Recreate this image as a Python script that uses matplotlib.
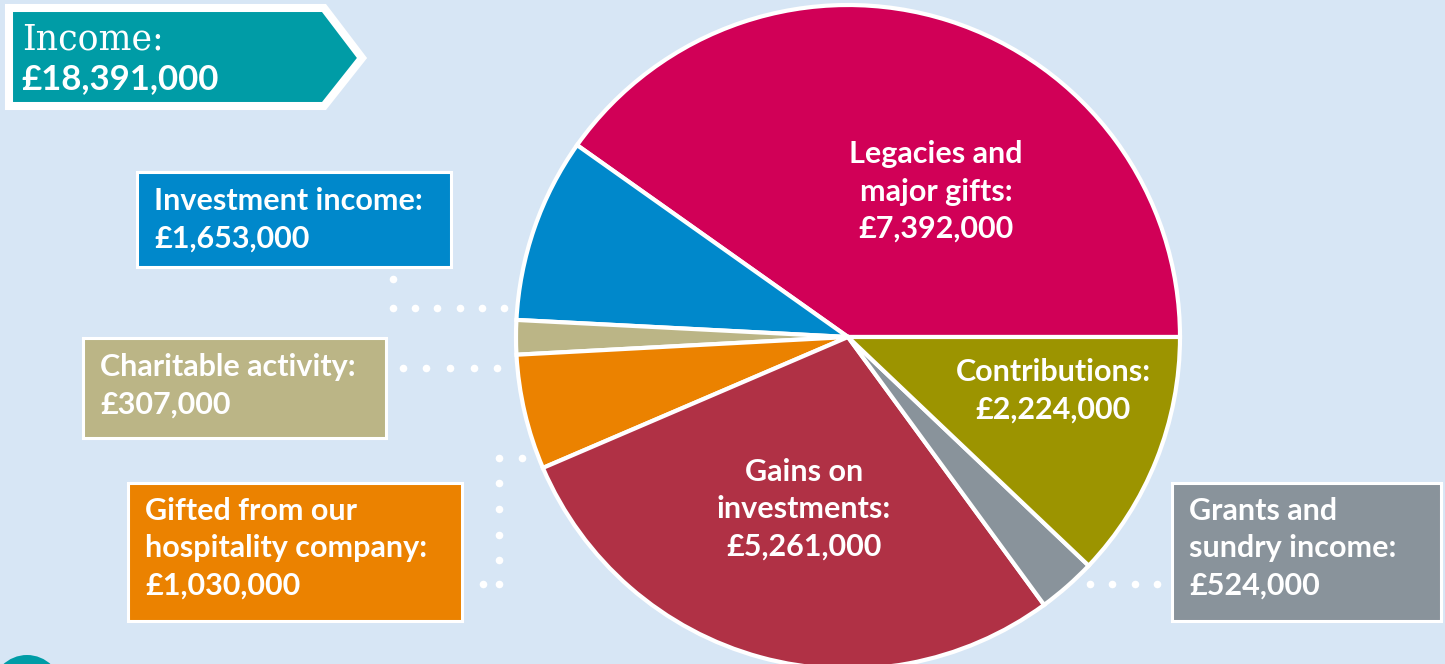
import matplotlib
matplotlib.use('agg')
import matplotlib.pyplot as plt
from matplotlib.patches import Rectangle, Polygon, Circle

# income split, pie order (counter-clockwise from 3 o'clock)
categories = ["Legacies and\nmajor gifts:", "Investment income:", "Charitable activity:",
              "Gifted from our\nhospitality company:", "Gains on\ninvestments:",
              "Grants and\nsundry income:", "Contributions:"]
values = [7392000, 1653000, 307000, 1030000, 5261000, 524000, 2224000]
total_income = 18391000
colors = ["#D10057", "#0088CB", "#BBB586", "#EB8200", "#B03145", "#89939B", "#9C9400"]

W, H = 1445, 664
BG = "#D7E6F5"
TEAL = "#009CA6"
FONT = "Lato"
FS = 22
LINE = 37.5


def Y(y):
    # image pixel (from top) -> axes y
    return H - y


def money(v):
    return "£{:,}".format(v)


def label(x, y, text, ha):
    # one text per line so every baseline sits where it should
    for k, line in enumerate(text.split("\n")):
        ax.text(x, Y(y + k * LINE), line, ha=ha, va="baseline", color="white",
                fontsize=FS, fontweight="bold", family=FONT, zorder=4)


fig = plt.figure(figsize=(W / 100, H / 100), dpi=100)
fig.patch.set_facecolor(BG)
ax = fig.add_axes([0, 0, 1, 1])
ax.set_facecolor(BG)

ax.pie(values, colors=colors, startangle=0, counterclock=True,
       center=(848, Y(337)), radius=332,
       wedgeprops=dict(edgecolor="white", linewidth=3))

ax.set_xlim(0, W)
ax.set_ylim(0, H)
ax.set_aspect("auto")
ax.axis("off")

# labels inside the pie
inside = {0: (936, 163), 4: (804, 481), 6: (1053, 381)}
for i, (x, y) in inside.items():
    label(x, y, categories[i] + "\n" + money(values[i]), "center")

# boxed labels outside: (x0, y0, x1, y1, text_x, first_baseline)
boxes = {
    1: (136.5, 171.5, 450.5, 266.5, 154, 210),
    2: (82.5, 337.5, 385.5, 437.5, 100, 376),
    3: (127.5, 482.5, 461.5, 620.5, 145, 520),
    5: (1171.5, 482.5, 1440.5, 620.5, 1189, 520),
}
for i, (x0, y0, x1, y1, tx, ty) in boxes.items():
    ax.add_patch(Rectangle((x0, Y(y1)), x1 - x0, y1 - y0, facecolor=colors[i],
                           edgecolor="white", linewidth=2.2, zorder=3))
    label(tx, ty, categories[i] + "\n" + money(values[i]), "left")

# dotted leaders
dots_x = [393, 393, 415, 437, 460, 482, 504,
          403, 426, 450, 474, 497,
          522, 499, 499, 499, 499, 499, 499, 483,
          1090, 1112, 1135, 1157]
dots_y = [279, 308, 308, 308, 308, 308, 308,
          368, 368, 368, 368, 368,
          458, 458, 483, 509, 535, 560, 584, 584,
          584, 584, 584, 584]
ax.scatter(dots_x, [Y(v) for v in dots_y], s=30, color="white",
           linewidths=0, zorder=2)

# income arrow
arrow = [(9, 8), (324, 8), (362, 58), (324, 106), (9, 106)]
ax.add_patch(Polygon([(x, Y(y)) for x, y in arrow], closed=True, facecolor=TEAL,
                     edgecolor="white", linewidth=5.8, joinstyle="miter", zorder=3))
ax.text(22, Y(50), "Income:", ha="left", va="baseline", color="white",
        fontsize=25, family="DejaVu Serif", zorder=4)
ax.text(21, Y(89), money(total_income), ha="left", va="baseline", color="white",
        fontsize=25, fontweight="bold", family=FONT, zorder=4)

# teal circle at bottom-left corner
ax.add_patch(Circle((27, Y(690)), 35, facecolor=TEAL, edgecolor="none", zorder=3))

fig.savefig("out.png", dpi=100, facecolor=BG)
